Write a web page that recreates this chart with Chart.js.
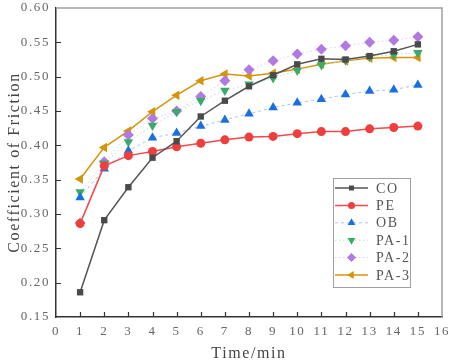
<!DOCTYPE html>
<html>
<head>
<meta charset="utf-8">
<script src="https://cdn.jsdelivr.net/npm/chart.js@4/dist/chart.umd.min.js"></script>
<style>
html,body{margin:0;padding:0;background:#fff;}
canvas{display:block;}
</style>
</head>
<body>
<canvas id="c" width="452" height="360"></canvas>
<script>
const time = [1,2,3,4,5,6,7,8,9,10,11,12,13,14,15];
const CO  = [0.186,0.291,0.339,0.382,0.406,0.442,0.465,0.486,0.502,0.518,0.526,0.525,0.530,0.537,0.547];
const PE  = [0.286,0.370,0.385,0.391,0.398,0.403,0.408,0.412,0.413,0.417,0.420,0.420,0.424,0.426,0.428];
const OB  = [0.324,0.366,0.392,0.411,0.418,0.428,0.437,0.446,0.455,0.462,0.467,0.474,0.479,0.481,0.488];
const PA1 = [0.332,0.374,0.405,0.429,0.449,0.465,0.480,0.489,0.498,0.509,0.517,0.524,0.529,0.532,0.535];
const PA2 = [0.287,0.376,0.415,0.439,0.450,0.471,0.494,0.510,0.523,0.533,0.540,0.545,0.550,0.553,0.558];
const PA3 = [0.351,0.397,0.421,0.449,0.473,0.494,0.504,0.501,0.505,0.511,0.518,0.523,0.527,0.528,0.528];
const seriesNames = ['CO','PE','OB','PA-1','PA-2','PA-3'];
const xTitle = 'Time/min';
const yTitle = 'Coefficient of Friction';

const FONT = "'Liberation Serif', 'DejaVu Serif', serif";
const SPACING = '1.6px';

function pts(arr){ return arr.map((v,i)=>({x:time[i], y:v})); }

const styles = [
  {line:'#555555', mark:'#4a4a4a', width:1.5, dash:[], ps:'rect', rot:0, r:4.5},
  {line:'#f04a4a', mark:'#ef3e3e', width:1.5, dash:[], ps:'circle', rot:0, r:4.5},
  {line:'#a8c4f2', mark:'#1a6fe0', width:1, dash:[3,3], ps:'triangle', rot:0, r:5.5},
  {line:'#b8e2c8', mark:'#3aaa6a', width:1, dash:[1.5,2.5], ps:'triangle', rot:180, r:5.5},
  {line:'#dccdf2', mark:'#b07ae0', width:1, dash:[1.5,2.5], ps:'rectRot', rot:0, r:5.5},
  {line:'#d4950a', mark:'#d4950a', width:1.5, dash:[], ps:'triangle', rot:-90, r:5.5}
];
const dataArrs = [CO,PE,OB,PA1,PA2,PA3];

const datasets = dataArrs.map((arr,i)=>({
  label: seriesNames[i],
  data: pts(arr),
  borderColor: styles[i].line,
  backgroundColor: styles[i].mark,
  borderWidth: styles[i].width,
  borderDash: styles[i].dash,
  pointStyle: styles[i].ps,
  pointRotation: styles[i].rot,
  pointRadius: styles[i].r,
  pointBackgroundColor: styles[i].mark,
  pointBorderColor: styles[i].mark,
  pointBorderWidth: 0,
  tension: 0,
  fill: false
}));

const spacingPlugin = {
  id:'spacing',
  beforeUpdate(chart){ chart.ctx.letterSpacing = SPACING; },
  beforeDraw(chart){ chart.ctx.letterSpacing = SPACING; }
};

const framePlugin = {
  id:'frame',
  afterDatasetsDraw(chart){
    const ctx = chart.ctx;
    const a = chart.chartArea;
    ctx.save();
    ctx.strokeStyle = '#a0a0a0';
    ctx.lineWidth = 1.5;
    ctx.beginPath();
    ctx.moveTo(a.left, a.top);
    ctx.lineTo(a.right, a.top);
    ctx.lineTo(a.right, a.bottom);
    ctx.stroke();
    ctx.strokeStyle = '#333';
    ctx.lineWidth = 1.2;
    const xs = chart.scales.x, ys = chart.scales.y;
    ctx.beginPath();
    xs.ticks.forEach(t=>{
      if (t.value<=0 || t.value>=16) return;
      const px = Math.round(xs.getPixelForValue(t.value))+0.5;
      ctx.moveTo(px, a.bottom); ctx.lineTo(px, a.bottom-5);
    });
    ys.ticks.forEach(t=>{
      if (t.value<=0.151 || t.value>=0.599) return;
      const py = Math.round(ys.getPixelForValue(t.value))+0.5;
      ctx.moveTo(a.left, py); ctx.lineTo(a.left+5, py);
    });
    ctx.stroke();
    const bx=333, by=178, bw=77, bh=109;
    ctx.fillStyle='#fff';
    ctx.fillRect(bx,by,bw,bh);
    ctx.strokeStyle='#a0a0a0';
    ctx.lineWidth=1;
    ctx.strokeRect(bx+0.5,by+0.5,bw,bh);
    ctx.font = "14px " + FONT;
    ctx.letterSpacing = SPACING;
    ctx.textBaseline='middle';
    ctx.textAlign='left';
    chart.data.datasets.forEach((ds,i)=>{
      const y = by + 10 + i*17.4;
      ctx.save();
      ctx.strokeStyle = ds.borderColor;
      ctx.lineWidth = ds.borderWidth;
      ctx.setLineDash(ds.borderDash);
      ctx.beginPath(); ctx.moveTo(bx+2, y); ctx.lineTo(bx+35, y); ctx.stroke();
      ctx.setLineDash([]);
      ctx.fillStyle = ds.pointBackgroundColor;
      ctx.strokeStyle = ds.pointBorderColor;
      Chart.helpers.drawPoint(ctx, {pointStyle: ds.pointStyle, rotation: ds.pointRotation, radius: ds.pointRadius-1, borderWidth:0}, bx+18.5, y);
      ctx.restore();
      ctx.fillStyle='#555';
      ctx.fillText(ds.label, bx+43, y+1);
    });
    ctx.restore();
  }
};

new Chart(document.getElementById('c'), {
  type:'line',
  data:{datasets},
  options:{
    responsive:false,
    animation:false,
    layout:{padding:{left:3,right:10,top:8,bottom:-3}},
    plugins:{legend:{display:false}, tooltip:{enabled:false}},
    scales:{
      x:{
        type:'linear', min:0, max:16,
        ticks:{stepSize:1, color:'#666', font:{family:FONT, size:13}, padding:7, maxRotation:0},
        grid:{display:true, drawOnChartArea:false, drawTicks:false},
        border:{color:'#333', width:1.5},
        title:{display:true, text:xTitle, color:'#444', font:{family:FONT, size:16}, padding:{top:2,bottom:0}},
        afterFit(s){ s.height = 46; s.paddingLeft = 0; s.paddingRight = 0; }
      },
      y:{
        type:'linear', min:0.15, max:0.60,
        ticks:{stepSize:0.05, color:'#666', font:{family:FONT, size:13}, padding:6,
          callback:(v)=>v.toFixed(2)},
        grid:{display:true, drawOnChartArea:false, drawTicks:false},
        border:{color:'#333', width:1.5},
        title:{display:true, text:yTitle, color:'#444', font:{family:FONT, size:16}, padding:{top:2,bottom:2}},
        afterFit(s){ s.width = 53; s.paddingTop = 0; s.paddingBottom = 0; }
      }
    }
  },
  plugins:[spacingPlugin, framePlugin]
});
</script>
</body>
</html>
